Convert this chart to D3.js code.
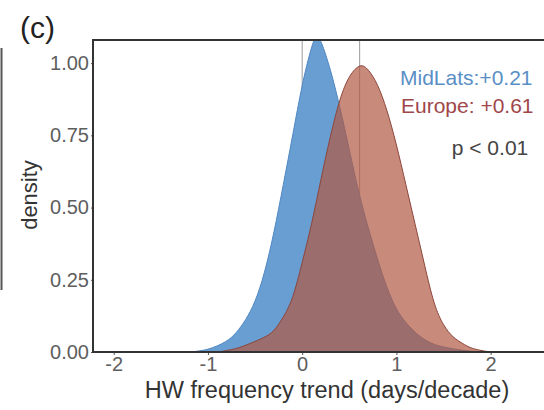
<!DOCTYPE html>
<html>
<head>
<meta charset="utf-8">
<script src="https://cdnjs.cloudflare.com/ajax/libs/d3/7.8.5/d3.min.js"></script>
<style>
    body { margin: 0; background: #fff; }
    svg { display: block; font-family: "Liberation Sans", Arial, sans-serif; }
</style>
</head>
<body>
<div id="chart"></div>
<script>
// MidLats density (x: days/decade, y: density)
var midlatsX = [-1.2, -1.0, -0.8, -0.7, -0.6, -0.5, -0.4, -0.3, -0.2, -0.1, 0.0, 0.1, 0.15, 0.2, 0.3, 0.4, 0.5, 0.6, 0.7, 0.8, 0.9, 1.0, 1.1, 1.25, 1.4, 1.5, 1.7, 1.9];
var midlatsY = [0.0, 0.006, 0.035, 0.065, 0.11, 0.17, 0.27, 0.41, 0.58, 0.75, 0.93, 1.06, 1.10, 1.08, 0.98, 0.85, 0.70, 0.55, 0.43, 0.32, 0.22, 0.145, 0.10, 0.05, 0.025, 0.017, 0.005, 0.0];

// Europe density
var europeX = [-0.9, -0.7, -0.55, -0.4, -0.3, -0.2, -0.1, 0.0, 0.1, 0.2, 0.3, 0.4, 0.5, 0.62, 0.7, 0.8, 0.9, 1.0, 1.1, 1.2, 1.3, 1.4, 1.5, 1.6, 1.7, 1.8, 2.0];
var europeY = [0.0, 0.01, 0.03, 0.05, 0.07, 0.12, 0.18, 0.31, 0.44, 0.60, 0.75, 0.88, 0.96, 1.00, 0.98, 0.93, 0.84, 0.72, 0.58, 0.44, 0.30, 0.16, 0.09, 0.05, 0.03, 0.01, 0.0];

var refLines = [0, 0.61];
var xTicks = [-2, -1, 0, 1, 2];
var yTicks = [0, 0.25, 0.5, 0.75, 1.0];
var labels = ["MidLats:+0.21", "Europe: +0.61", "p < 0.01"];

var W = 544, H = 410;
var svg = d3.select("#chart").append("svg").attr("width", W).attr("height", H);

var x = d3.scaleLinear().domain([-2.22, 2.8]).range([93, 566]);
var y = d3.scaleLinear().domain([0, 1.08]).range([352, 40]);

svg.append("clipPath").attr("id", "clip").append("rect")
    .attr("x", x(-2.22)).attr("y", y(1.08)).attr("width", W).attr("height", y(0) - y(1.08));

// 隣のパネルの枠の一部
svg.append("line").attr("x1", 1.5).attr("x2", 1.5).attr("y1", 48).attr("y2", 290)
    .attr("stroke", "#555").attr("stroke-width", 2);

svg.append("text").attr("x", 20).attr("y", 38).attr("font-size", 30)
    .attr("fill", "#222").text("(c)");

var plot = svg.append("g").attr("clip-path", "url(#clip)");

// 平均値の縦線 (塗りの下)
plot.selectAll("line.ref").data(refLines).enter().append("line")
    .attr("class", "ref")
    .attr("x1", function (d) { return x(d); }).attr("x2", function (d) { return x(d); })
    .attr("y1", y(1.08)).attr("y2", y(0))
    .attr("stroke", "#9a9a9a").attr("stroke-width", 1);

var area = d3.area()
    .x(function (d) { return x(d[0]); })
    .y0(y(0))
    .y1(function (d) { return y(d[1]); })
    .curve(d3.curveBasis);

var midlats = d3.zip(midlatsX, midlatsY);
var europe = d3.zip(europeX, europeY);

plot.append("path").datum(midlats).attr("d", area)
    .attr("fill", "rgb(104,158,210)").attr("stroke", "rgb(80,135,195)").attr("stroke-width", 1);
plot.append("path").datum(europe).attr("d", area)
    .attr("fill", "rgb(176,88,65)").attr("fill-opacity", 0.7)
    .attr("stroke", "rgb(140,70,60)").attr("stroke-width", 1);

// 軸
var xAxis = d3.axisBottom(x).tickValues(xTicks).tickSize(3).tickPadding(2)
    .tickFormat(function (d) { return d < 0 ? "-" + Math.abs(d) : d; });
var gx = svg.append("g").attr("transform", "translate(0," + y(0) + ")").call(xAxis);
var yAxis = d3.axisLeft(y).tickValues(yTicks).tickSize(2).tickPadding(2).tickFormat(d3.format(".2f"));
var gy = svg.append("g").attr("transform", "translate(" + x(-2.22) + ",0)").call(yAxis);

[gx, gy].forEach(function (g) {
    g.select(".domain").remove();
    g.selectAll(".tick line").attr("stroke", "#555");
    g.selectAll(".tick text").attr("fill", "#5e5e5e").attr("font-size", 20);
});

// 枠
svg.append("path")
    .attr("d", "M" + W + "," + y(1.08) + "H" + x(-2.22) + "V" + y(0) + "H" + W)
    .attr("fill", "none").attr("stroke", "#333").attr("stroke-width", 2);

svg.append("text").attr("x", 327).attr("y", 398).attr("text-anchor", "middle")
    .attr("font-size", 23.5).attr("fill", "#333").text("HW frequency trend (days/decade)");
svg.append("text").attr("transform", "translate(37,195) rotate(-90)").attr("text-anchor", "middle")
    .attr("font-size", 22).attr("fill", "#333").text("density");

svg.append("text").attr("x", 400).attr("y", 85).attr("font-size", 21)
    .attr("fill", "#5a8fc6").text(labels[0]);
svg.append("text").attr("x", 401).attr("y", 113).attr("font-size", 21)
    .attr("fill", "#a0474a").text(labels[1]);
svg.append("text").attr("x", 490).attr("y", 155).attr("text-anchor", "middle").attr("font-size", 21)
    .attr("fill", "#444").text(labels[2]);
</script>
</body>
</html>
